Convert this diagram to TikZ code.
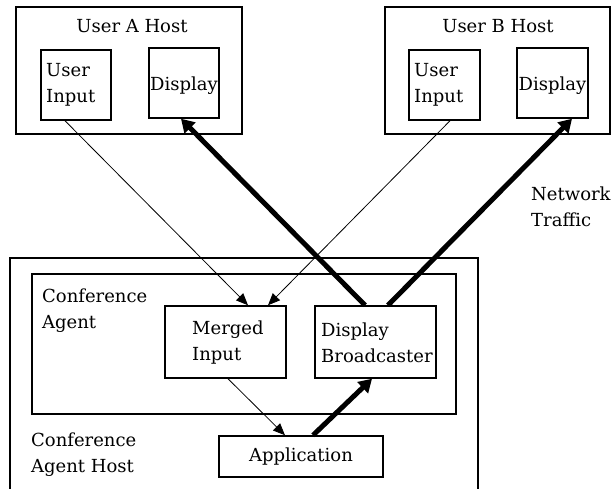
\documentclass[tikz,border=0pt]{standalone}
\usepackage{fontspec}
\setmainfont{DejaVu Serif}
\usetikzlibrary{arrows.meta}
\begin{document}
\begin{tikzpicture}[x=1pt,y=-1pt,
  box/.style={draw,line width=1.5pt,minimum width=#1,inner sep=0pt,font=\fontsize{18}{26}\selectfont},
  lbl/.style={inner sep=0pt,align=left,font=\fontsize{18}{26}\selectfont},
  thin/.style={line width=0.8pt,-{Triangle[length=12pt,width=10pt]}},
  thick/.style={line width=5pt,-{Triangle[length=13pt,width=15pt]}}]
\clip (0,0) rectangle (613,489);
\fill[white] (0,0) rectangle (613,489);
% hosts
\node[box=226pt,minimum height=127pt] (hostA) at (129,70.5) {};
\node[box=70pt,minimum height=70pt] (uiA) at (76,85) {};
\node[box=70pt,minimum height=70pt] (dA) at (184,83) {};
\node[box=225pt,minimum height=127pt] (hostB) at (497.5,70.5) {};
\node[box=71pt,minimum height=70pt] (uiB) at (444.5,85) {};
\node[box=71pt,minimum height=70pt] (dB) at (552.5,83) {};
\node[lbl] (tA) at (132,26) {User A Host};
\node[lbl] (tB) at (498,26) {User B Host};
\node[lbl,anchor=west] (tuiA) at (46,85) {User\\Input};
\node[lbl] (tdA) at (184,86) {Display};
\node[lbl,anchor=west] (tuiB) at (414,85) {User\\Input};
\node[lbl] (tdB) at (552.5,86) {Display};
% conference agent host
\node[box=468pt,minimum height=300pt] (cah) at (244,408) {};
\node[box=424pt,minimum height=140pt] (ca) at (244,344) {};
\node[box=121pt,minimum height=72pt] (mi) at (225.5,342) {};
\node[box=121pt,minimum height=72pt] (db) at (375.5,342) {};
\node[box=164pt,minimum height=41pt] (app) at (301,456.5) {Application};
\node[lbl,anchor=west] (tca) at (42,311) {Conference\\Agent};
\node[lbl,anchor=west] (tcah) at (31,455) {Conference\\Agent Host};
\node[lbl,anchor=west] (tmi) at (192,343) {Merged\\Input};
\node[lbl,anchor=west] (tdb) at (321,343) {Display\\Broadcaster};
\node[lbl,anchor=west] (tnt) at (531,207) {Network\\Traffic};
% connectors
\draw[thin] ([xshift=-11pt]uiA.south) -- ([xshift=22.5pt]mi.north);
\draw[thin] ([xshift=5.5pt]uiB.south) -- ([xshift=42.5pt]mi.north);
\draw[thick] ([xshift=-10.5pt]db.north) -- ([xshift=-3pt]dA.south);
\draw[thick] ([xshift=12.5pt]db.north) -- ([xshift=19.5pt]dB.south);
\draw[thin] ([xshift=2.5pt]mi.south) -- ([xshift=-16pt]app.north);
\draw[thick] ([xshift=12pt]app.north) -- ([xshift=-3.5pt]db.south);
\end{tikzpicture}
\end{document}
